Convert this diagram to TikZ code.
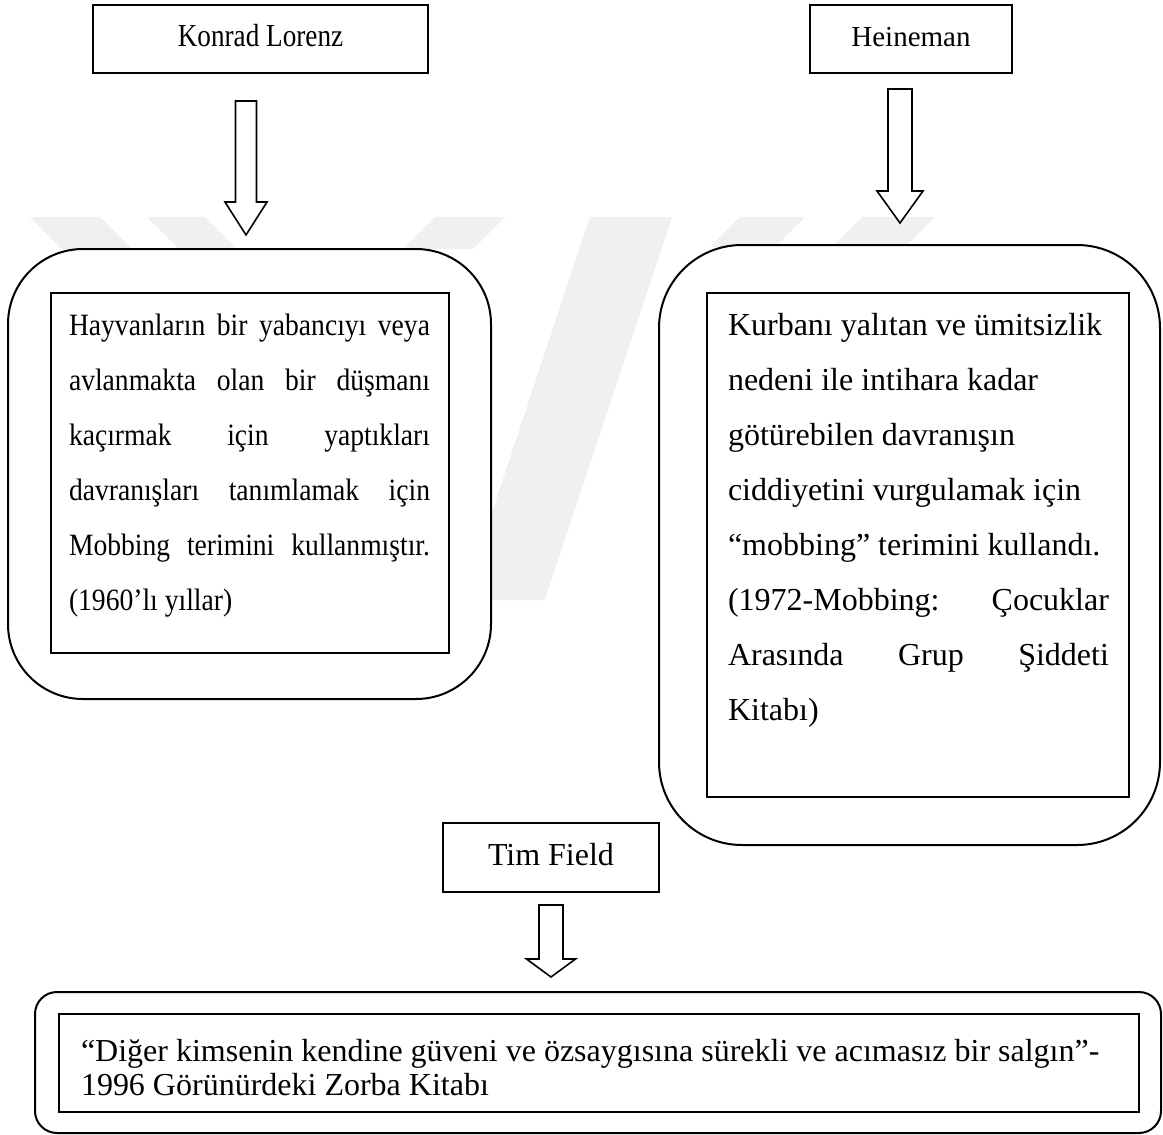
\documentclass[tikz,border=0pt]{standalone}
\usepackage{fontspec}
\setmainfont{Liberation Serif}
\newfontfamily\condensedserif[FakeStretch=0.89]{Liberation Serif}
\newfontfamily\tightserif[FakeStretch=0.85]{Liberation Serif}
\usetikzlibrary{calc}
% paragraph settings for the forced, justified line breaks
\tolerance=10000
\hbadness=10000
\hyphenpenalty=10000
\exhyphenpenalty=10000
\begin{document}
\begin{tikzpicture}[x=1pt,y=-1pt,
  box/.style={draw, line width=2pt, fill=white, inner sep=0pt, outer sep=0pt},
  namebox/.style={box, text height=22pt, text depth=7pt},
  framebox/.style={box},
  bodytext/.style={anchor=base west, inner sep=0pt, outer sep=0pt, align=justify},
  watermarkband/.style={fill=black!6},
  arrowline/.style={draw, fill=white, line width=1.6pt, line join=miter},
  pics/hollowdown/.style n args={4}{code={
    \path[arrowline] (-#3,0) -- (#3,0) -- (#3,#1-#2) -- (#4,#1-#2) -- (0,#1)
      -- (-#4,#1-#2) -- (-#3,#1-#2) -- cycle;}}
]
\useasboundingbox[fill=white] (0,0) rectangle (1163,1135);

% faint background bands
\fill[watermarkband] (30,217) -- (100,217) -- (132,249) -- (62,249) -- cycle;
\fill[watermarkband] (147,217) -- (205,217) -- (237,249) -- (179,249) -- cycle;
\fill[watermarkband] (435,217) -- (505,217) -- (473,249) -- (403,249) -- cycle;
\fill[watermarkband] (590,217) -- (672,217) -- (545,600) -- (463,600) -- cycle;
\fill[watermarkband] (740,217) -- (805,217) -- (775,247) -- (710,247) -- cycle;
\fill[watermarkband] (862,217) -- (935,217) -- (905,247) -- (832,247) -- cycle;

% author boxes
\node[namebox, minimum width=335pt, minimum height=68pt,
      font=\tightserif\fontsize{32}{38}\selectfont] (lorenz) at (260.5,39) {Konrad Lorenz};
\node[namebox, minimum width=202pt, minimum height=68pt,
      font=\fontsize{29}{35}\selectfont] (heineman) at (911,39) {Heineman};
\node[namebox, minimum width=216pt, minimum height=69pt,
      font=\fontsize{32}{38}\selectfont] (field) at (551,857.5) {Tim Field};

% Lorenz definition
\node[framebox, rounded corners=75pt, minimum width=483pt, minimum height=450pt] (lorenzOuter) at (249.5,474) {};
\node[framebox, minimum width=398pt, minimum height=360pt] (lorenzInner) at (250,473) {};
\node[bodytext, text width=361pt,
      font=\condensedserif\fontsize{31}{55}\selectfont] (lorenzText) at (69,335)
  {Hayvanların bir yabancıyı veya\linebreak
   avlanmakta olan bir düşmanı\linebreak
   kaçırmak için yaptıkları\linebreak
   davranışları tanımlamak için\linebreak
   Mobbing terimini kullanmıştır.\linebreak
   (1960’lı yıllar)};

% Heineman definition
\node[framebox, rounded corners=83pt, minimum width=501pt, minimum height=600pt] (heinemanOuter) at (909.5,545) {};
\node[framebox, minimum width=422pt, minimum height=504pt] (heinemanInner) at (918,545) {};
\node[bodytext, text width=381pt,
      font=\fontsize{32}{55}\selectfont] (heinemanText) at (728,335)
  {Kurbanı yalıtan ve ümitsizlik\\
   nedeni ile intihara kadar\\
   götürebilen davranışın\\
   ciddiyetini vurgulamak için\\
   “mobbing” terimini kullandı.\\
   (1972-Mobbing: Çocuklar\linebreak
   Arasında Grup Şiddeti\linebreak
   Kitabı)};

% Field definition
\node[framebox, rounded corners=22pt, minimum width=1126pt, minimum height=141pt] (fieldOuter) at (598,1062.5) {};
\node[framebox, minimum width=1080pt, minimum height=98pt] (fieldInner) at (599,1063) {};
\node[bodytext, text width=1050pt,
      font=\fontsize{32}{34}\selectfont] (fieldText) at (81,1061)
  {“Diğer kimsenin kendine güveni ve özsaygısına sürekli ve acımasız bir salgın”-\\
   1996 Görünürdeki Zorba Kitabı};

% hollow block arrows from each name to its definition
\coordinate (lorenzArrow) at ($(lorenz.south)+(-14.5,28)$);
\coordinate (heinemanArrow) at ($(heineman.south)+(-11,16)$);
\coordinate (fieldArrow) at ($(field.south)+(0,13)$);
\pic at (lorenzArrow) {hollowdown={134}{33}{10.5}{21}};
\pic at (heinemanArrow) {hollowdown={134}{32}{12}{23}};
\pic at (fieldArrow) {hollowdown={72}{18}{12}{24.5}};
\end{tikzpicture}
\end{document}
